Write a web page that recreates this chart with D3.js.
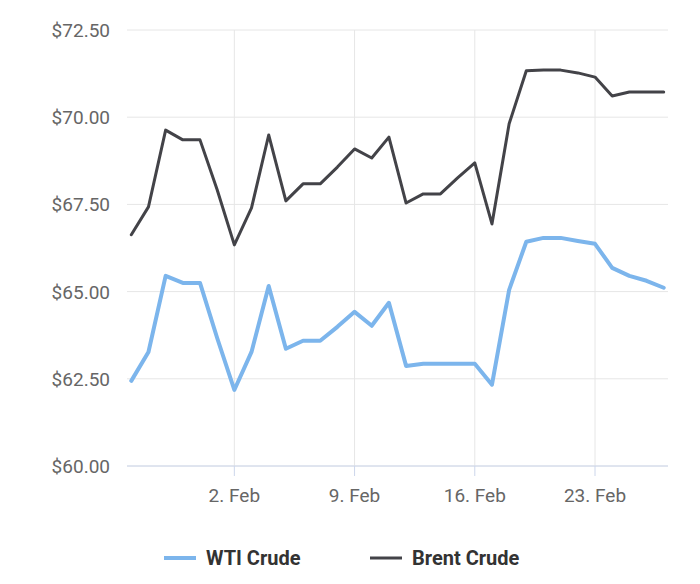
<!DOCTYPE html>
<html><head><meta charset="utf-8">
<script src="https://cdn.jsdelivr.net/npm/d3@7"></script>
<style>body{margin:0;background:#fff;font-family:Roboto,sans-serif}</style>
</head><body><div id="chart"></div>
<script>
// daily closes, 27 Jan - 27 Feb
var startDate = new Date(2020, 0, 27);
var wti = [62.44,63.27,65.45,65.25,65.25,63.67,62.18,63.27,65.16,63.36,63.59,63.59,63.99,64.42,64.02,64.68,62.87,62.93,62.93,62.93,62.93,62.33,65.05,66.43,66.54,66.54,66.45,66.37,65.68,65.45,65.31,65.11];
var brent = [66.63,67.43,69.63,69.35,69.35,67.92,66.34,67.40,69.49,67.60,68.09,68.09,68.57,69.09,68.83,69.43,67.54,67.80,67.80,68.26,68.69,66.94,69.81,71.33,71.35,71.35,71.27,71.15,70.61,70.72,70.72,70.72];
var yTicks = [60, 62.5, 65, 67.5, 70, 72.5];
var xTickDates = [new Date(2020,1,2), new Date(2020,1,9), new Date(2020,1,16), new Date(2020,1,23)];
var series = [
  {name: "WTI Crude", values: wti, color: "#7cb5ec", width: 4},
  {name: "Brent Crude", values: brent, color: "#434348", width: 3}
];

var svgWidth = 700, svgHeight = 584;
var margin = {top: 30, right: 32, bottom: 118, left: 127};
var width = svgWidth - margin.left - margin.right;
var height = svgHeight - margin.top - margin.bottom;

var svg = d3.select("#chart").append("svg")
  .attr("width", svgWidth).attr("height", svgHeight);
var g = svg.append("g").attr("transform", `translate(${margin.left}, ${margin.top})`);

var dates = wti.map((d, i) => d3.timeDay.offset(startDate, i));
var x = d3.scaleTime()
  .domain([d3.timeHour.offset(dates[0], -6), d3.timeHour.offset(dates[dates.length-1], 6)])
  .range([0, width]);
var y = d3.scaleLinear().domain([60, 72.5]).range([height, 0]);

// grid
g.selectAll(".hg").data(yTicks).enter().append("line")
  .attr("x1", 0).attr("x2", width)
  .attr("y1", d => y(d)).attr("y2", d => y(d))
  .attr("stroke", "#e6e6e6");
g.selectAll(".vg").data(xTickDates).enter().append("line")
  .attr("x1", d => x(d)).attr("x2", d => x(d))
  .attr("y1", 0).attr("y2", height)
  .attr("stroke", "#e6e6e6");

// axes
g.append("line").attr("x1", 0).attr("x2", width).attr("y1", height).attr("y2", height)
  .attr("stroke", "#ccd6eb");
g.selectAll(".xt").data(xTickDates).enter().append("line")
  .attr("x1", d => x(d)).attr("x2", d => x(d)).attr("y1", height).attr("y2", height + 10)
  .attr("stroke", "#ccd6eb");
g.selectAll(".xl").data(xTickDates).enter().append("text")
  .attr("x", d => x(d)).attr("y", height + 36)
  .attr("text-anchor", "middle").attr("fill", "#666").attr("font-size", 19)
  .text(d => d.getDate() + ". Feb");
g.selectAll(".yl").data(yTicks).enter().append("text")
  .attr("x", -17).attr("y", d => y(d) + 7)
  .attr("text-anchor", "end").attr("fill", "#666").attr("font-size", 19)
  .text(d => "$" + d.toFixed(2));

// lines
var line = d3.line().x((d, i) => x(dates[i])).y(d => y(d));
series.forEach(function(s) {
  g.append("path").datum(s.values)
    .attr("fill", "none").attr("stroke", s.color)
    .attr("stroke-width", s.width).attr("stroke-linejoin", "round")
    .attr("stroke-linecap", "round").attr("d", line);
});

// legend
var legend = svg.append("g").attr("transform", "translate(164, 558)");
var offsets = [0, 206];
series.forEach(function(s, i) {
  var lg = legend.append("g").attr("transform", `translate(${offsets[i]}, 0)`);
  lg.append("line").attr("x1", 0).attr("x2", 32).attr("y1", 0).attr("y2", 0)
    .attr("stroke", s.color).attr("stroke-width", s.width);
  lg.append("text").attr("x", 42).attr("y", 7).attr("font-size", 20)
    .attr("font-weight", "bold").attr("fill", "#333").text(s.name);
});
</script></body></html>
